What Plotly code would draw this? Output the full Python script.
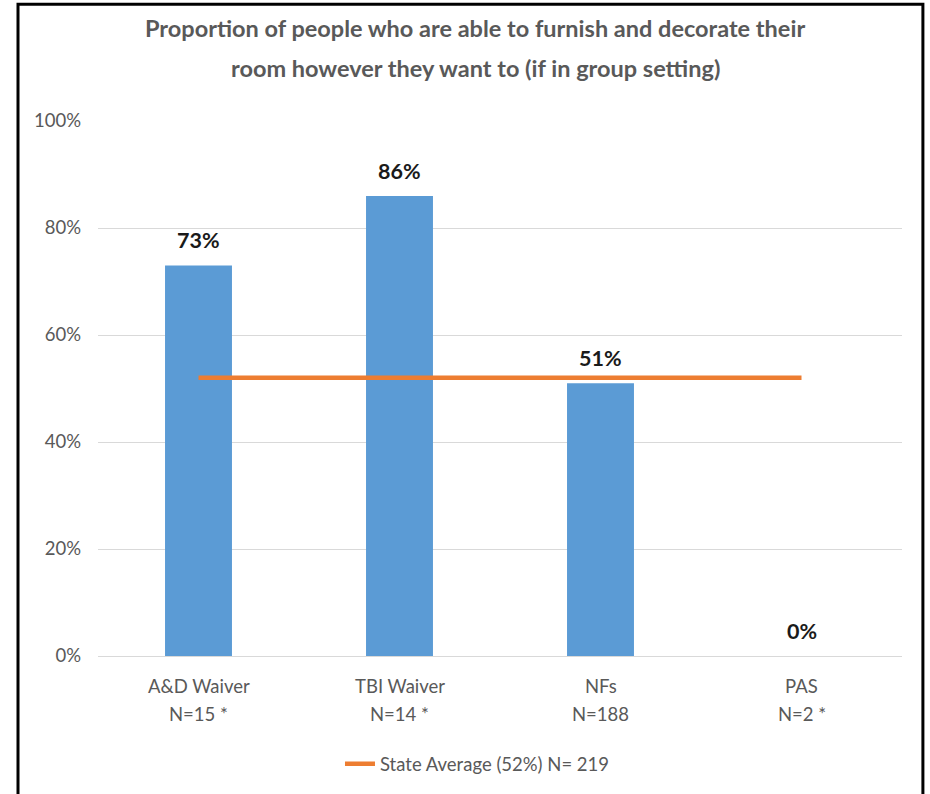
import plotly.graph_objects as go

# Program categories and results
categories = ["A&D Waiver", "TBI Waiver", "NFs", "PAS"]
sample_sizes = ["N=15 *", "N=14 *", "N=188", "N=2 *"]
percent_able = [73, 86, 51, 0]
state_average = 52
state_n = 219
y_ticks = [0, 20, 40, 60, 80, 100]

title_lines = [
    "Proportion of people who are able to furnish and decorate their",
    "room however they want to (if in group setting)",
]

FONT = "Lato"
GREY = "#595959"
BLUE = "#5B9BD5"
ORANGE = "#ED7D31"

fig = go.Figure()

fig.add_trace(go.Bar(
    x=categories,
    y=percent_able,
    marker=dict(color=BLUE, line=dict(width=0)),
    showlegend=False,
    hoverinfo="skip",
))

fig.add_trace(go.Scatter(
    x=categories,
    y=[state_average] * len(categories),
    mode="lines",
    line=dict(color=ORANGE, width=4.5),
    name=f"State Average ({state_average}%) N= {state_n}",
))

annotations = []

# Value labels above each bar
for cat, val in zip(categories, percent_able):
    annotations.append(dict(
        x=cat, y=val, xref="x", yref="y",
        text=f"<b>{val}%</b>", showarrow=False,
        yanchor="bottom", yshift=10,
        font=dict(family=FONT, size=21.5, color="#1a1a1a"),
    ))

# Two-line category labels
for cat, n in zip(categories, sample_sizes):
    annotations.append(dict(
        x=cat, y=-0.056, xref="x", yref="paper",
        text=cat, showarrow=False, yanchor="middle",
        font=dict(family=FONT, size=18.5, color=GREY),
    ))
    annotations.append(dict(
        x=cat, y=-0.108, xref="x", yref="paper",
        text=n, showarrow=False, yanchor="middle",
        font=dict(family=FONT, size=18.5, color=GREY),
    ))

# Title
for line, ypos in zip(title_lines, [1.1735, 1.0989]):
    annotations.append(dict(
        x=0.469, y=ypos, xref="paper", yref="paper",
        text=f"<b>{line}</b>", showarrow=False,
        xanchor="center", yanchor="middle",
        font=dict(family=FONT, size=23.5, color=GREY),
    ))

fig.update_layout(
    width=930, height=794,
    margin=dict(l=98, r=28, t=121, b=137),
    paper_bgcolor="white",
    plot_bgcolor="white",
    bargap=0.667,
    font=dict(family=FONT, color=GREY),
    annotations=annotations,
    legend=dict(
        orientation="h", x=0.472, xanchor="center",
        y=-0.2, yanchor="middle",
        font=dict(family=FONT, size=18.5, color=GREY),
        bgcolor="rgba(0,0,0,0)",
    ),
    shapes=[dict(
        type="rect", xref="paper", yref="paper",
        x0=-0.0995, x1=1.026, y0=-0.27, y1=1.218,
        line=dict(color="black", width=3),
        fillcolor="rgba(0,0,0,0)",
        layer="above",
    )],
)

fig.update_xaxes(
    showticklabels=False, showgrid=False,
    showline=True, linecolor="#D9D9D9", linewidth=1,
    ticks="",
)

fig.update_yaxes(
    range=[0, 100],
    tickmode="array",
    tickvals=y_ticks,
    ticktext=[f"{t}%" for t in y_ticks],
    showgrid=True, gridcolor="#D9D9D9", gridwidth=1,
    zeroline=False, showline=False,
    ticks="", ticklabelstandoff=16,
    tickfont=dict(family=FONT, size=18.5, color=GREY),
)

fig.write_html("out.html")
